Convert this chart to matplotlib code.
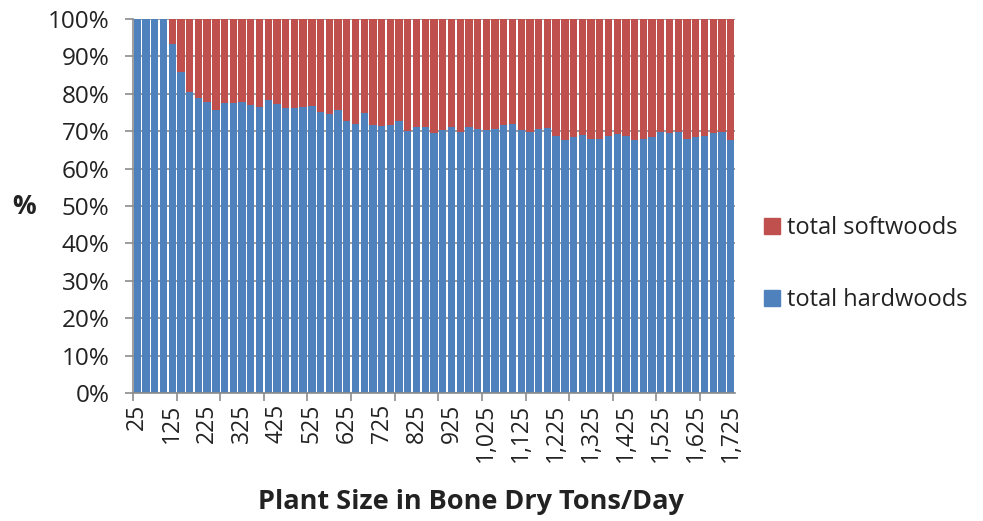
import matplotlib.pyplot as plt
import numpy as np
from matplotlib.patches import Patch

plt.rcParams['font.family'] = ['Open Sans', 'DejaVu Sans']

# plant size categories (bone dry tons/day)
sizes = list(range(25, 1750, 25))
# share of total hardwoods (%)
hardwoods = [100, 100, 100, 100, 93.4, 85.7, 80.6, 78.9, 77.7, 75.6,
             77.6, 77.6, 77.7, 77.1, 76.6, 78.3, 77.2, 76.1, 76.1, 76.5,
             76.8, 75.2, 74.7, 75.8, 72.7, 71.9, 74.8, 71.6, 71.5, 71.6,
             72.7, 70.0, 71.1, 71.1, 69.5, 70.3, 71.1, 69.9, 71.1, 70.5,
             70.3, 70.5, 71.6, 71.8, 70.3, 69.7, 70.5, 70.8, 68.8, 67.7,
             68.4, 69.0, 68.0, 68.0, 68.7, 69.2, 68.8, 67.7, 67.9, 68.5,
             69.8, 69.4, 69.9, 67.8, 68.4, 68.6, 69.4, 69.8, 67.7]
softwoods = [100 - h for h in hardwoods]

blue = '#4F81BD'
red = '#C0504D'

fig = plt.figure(figsize=(9.83, 5.21), dpi=100)
ax = fig.add_axes([0.1353, 0.2457, 0.6124, 0.7178])

x = np.arange(len(sizes))
ax.bar(x, hardwoods, width=0.84, color=blue, zorder=2)
ax.bar(x, softwoods, width=0.84, bottom=hardwoods, color=red, zorder=2)

ax.set_xlim(-0.5, len(sizes) - 0.5)
ax.set_ylim(0, 100)
ax.set_yticks(range(0, 101, 10))
ax.set_yticklabels([f'{v}%' for v in range(0, 101, 10)], fontsize=17.5, color='#222222')
ax.yaxis.grid(True, color='#8c8c8c', linewidth=1.2, zorder=0)

# labels every 4th category, tick marks every 5th boundary
ax.set_xticks(x[::4])
ax.set_xticklabels([f'{s:,}' for s in sizes[::4]], rotation=90, fontsize=16.5, color='#222222')
ax.tick_params(axis='x', length=0, pad=8)
ax.set_xticks(np.arange(-0.5, len(sizes), 5), minor=True)
ax.tick_params(axis='x', which='minor', length=6, color='#8c8c8c', width=1.2)
ax.tick_params(axis='y', length=6, color='#8c8c8c', width=1.2, pad=11)

for side in ['top', 'right']:
    ax.spines[side].set_visible(False)
for side in ['left', 'bottom']:
    ax.spines[side].set_color('#8c8c8c')
    ax.spines[side].set_linewidth(1.2)

fig.text(0.024, 0.603, '%', fontsize=19, fontweight='bold', ha='center', va='center',
         color='#222222')
fig.text(0.479, 0.037, 'Plant Size in Bone Dry Tons/Day', fontsize=19.5, fontweight='bold',
         ha='center', va='center', color='#222222')

handles = [Patch(color=red), Patch(color=blue)]
fig.legend(handles, ['total softwoods', 'total hardwoods'], loc='center left',
           bbox_to_anchor=(0.756, 0.493), frameon=False, labelcolor='#222222',
           fontsize=17, handlelength=0.65, handleheight=0.65, handletextpad=0.3,
           labelspacing=2.05)

plt.savefig('out.png', dpi=100)
